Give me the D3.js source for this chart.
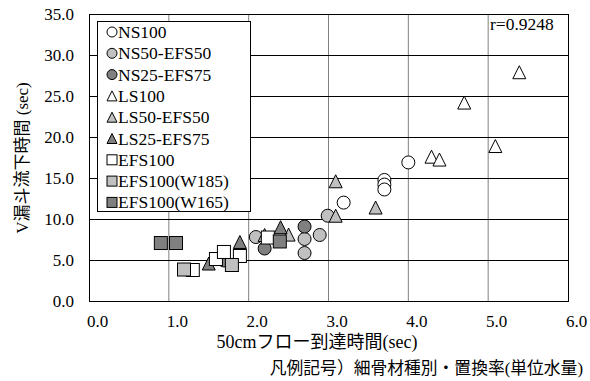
<!DOCTYPE html>
<html>
<head>
<meta charset="utf-8">
<script src="https://d3js.org/d3.v7.min.js"></script>
<style>
  html, body { margin: 0; background: #fff; }
</style>
</head>
<body>
<svg width="590" height="381"></svg>
<script>
// values: [flow time (sec), V-funnel time (sec)]
const ns100    = [[3.19, 12.0], [3.7, 14.76], [3.7, 14.2], [3.7, 13.6], [4.0, 16.9]];
const ns50     = [[2.09, 7.8], [2.7, 7.56], [2.7, 5.85], [2.89, 8.05], [2.99, 10.4]];
const ns25     = [[1.69, 4.94], [2.2, 6.4], [2.7, 9.08]];
const ls100    = [[4.29, 17.6], [4.39, 17.25], [4.7, 24.2], [5.09, 18.9], [5.39, 27.9]];
const ls50     = [[2.2, 8.05], [2.5, 8.1], [3.09, 10.4], [3.09, 14.6], [3.59, 11.4]];
const ls25     = [[1.5, 4.57], [1.89, 7.2], [2.4, 9.0]];
const efs100   = [[1.3, 3.78], [1.59, 5.12], [1.69, 5.98], [1.89, 5.49], [2.24, 7.74]];
const efsW185  = [[1.19, 3.84], [1.79, 4.39]];
const efsW165  = [[0.9, 7.07], [1.09, 7.07], [2.39, 7.26]];

const seriesNames = ["NS100", "NS50-EFS50", "NS25-EFS75", "LS100", "LS50-EFS50", "LS25-EFS75",
                     "EFS100", "EFS100(W185)", "EFS100(W165)"];
const seriesData = [ns100, ns50, ns25, ls100, ls50, ls25, efs100, efsW185, efsW165];
const seriesShape = ["circle", "circle", "circle", "triangle", "triangle", "triangle", "square", "square", "square"];
const seriesFill = ["#fff", "#c0c0c0", "#808080", "#fff", "#c0c0c0", "#808080", "#fff", "#c0c0c0", "#808080"];

const xTicks = [0, 1, 2, 3, 4, 5, 6];
const yTicks = [0, 5, 10, 15, 20, 25, 30, 35];
const rLabel = "r=0.9248";

const FONT = "'Liberation Serif', 'Noto Sans CJK JP'";

const svg = d3.select("svg");
const pl = 89, pr = 568, pt = 14, pb = 301;

const x = d3.scaleLinear().domain([0, 6]).range([pl, pr]);
const y = d3.scaleLinear().domain([0, 35]).range([pb, pt]);

// grid
svg.append("g").selectAll("line").data(xTicks.slice(1, -1)).enter().append("line")
  .attr("x1", d => x(d)).attr("x2", d => x(d)).attr("y1", pt).attr("y2", pb)
  .attr("stroke", "#808080").attr("stroke-width", 1);
svg.append("g").selectAll("line").data(yTicks.slice(1, -1)).enter().append("line")
  .attr("y1", d => y(d) + 0.5).attr("y2", d => y(d) + 0.5).attr("x1", pl).attr("x2", pr)
  .attr("stroke", "#000").attr("stroke-width", 1);

svg.append("rect").attr("x", pl + 0.5).attr("y", pt + 0.5)
  .attr("width", pr - pl).attr("height", pb - pt)
  .attr("fill", "none").attr("stroke", "#000").attr("stroke-width", 1);

// axes (ticks hidden, labels only)
const xAxis = svg.append("g").attr("transform", `translate(0,${pb})`)
  .call(d3.axisBottom(x).tickValues(xTicks).tickFormat(d3.format(".1f")).tickSize(0));
xAxis.select(".domain").remove();
xAxis.selectAll("text").style("font-family", FONT).attr("font-size", 17)
  .attr("fill", "#000").attr("dx", 8).attr("dy", 0).attr("y", 26);

const yAxis = svg.append("g").attr("transform", `translate(${pl},0)`)
  .call(d3.axisLeft(y).tickValues(yTicks).tickFormat(d3.format(".1f")).tickSize(0));
yAxis.select(".domain").remove();
yAxis.selectAll("text").style("font-family", FONT).attr("font-size", 17)
  .attr("fill", "#000").attr("x", -15).attr("dy", "0.33em");

function marker(g, shape, s) {
  if (shape === "circle") return g.append("circle").attr("r", s / 2);
  if (shape === "square") return g.append("rect").attr("x", -s / 2).attr("y", -s / 2).attr("width", s).attr("height", s);
  const h = s;
  return g.append("path").attr("d", `M0,${-h / 2}L${s / 2},${h / 2}L${-s / 2},${h / 2}Z`);
}

// points
seriesData.forEach((data, i) => {
  const g = svg.append("g");
  data.forEach(p => {
    const m = g.append("g").attr("transform", `translate(${x(p[0])},${y(p[1])})`);
    marker(m, seriesShape[i], 13).attr("fill", seriesFill[i]).attr("stroke", "#000").attr("stroke-width", 1);
  });
});

// legend
const lg = svg.append("g");
lg.append("rect").attr("x", 97.5).attr("y", 21.5).attr("width", 153).attr("height", 190)
  .attr("fill", "#fff").attr("stroke", "#000").attr("stroke-width", 1);
seriesNames.forEach((name, i) => {
  const cy = 32 + i * 21.3;
  const m = lg.append("g").attr("transform", `translate(112,${cy})`);
  marker(m, seriesShape[i], 10).attr("fill", seriesFill[i]).attr("stroke", "#000").attr("stroke-width", 1);
  lg.append("text").attr("x", 118).attr("y", cy + 6).attr("font-size", 17.5)
    .style("font-family", FONT).text(name);
});

svg.append("text").attr("x", 490).attr("y", 30).attr("font-size", 17.5)
  .style("font-family", FONT).text(rLabel);

// axis titles
svg.append("text").attr("transform", "translate(28,158) rotate(-90)")
  .attr("text-anchor", "middle").attr("font-size", 17).style("font-family", FONT)
  .text("V漏斗流下時間 (sec)");
svg.append("text").attr("x", 317).attr("y", 348).attr("text-anchor", "middle")
  .attr("font-size", 18).style("font-family", FONT).text("50cmフロー到達時間(sec)");
svg.append("text").attr("x", 583).attr("y", 374).attr("text-anchor", "end")
  .attr("font-size", 16.8).style("font-family", FONT).text("凡例記号）細骨材種別・置換率(単位水量)");
</script>
</body>
</html>
